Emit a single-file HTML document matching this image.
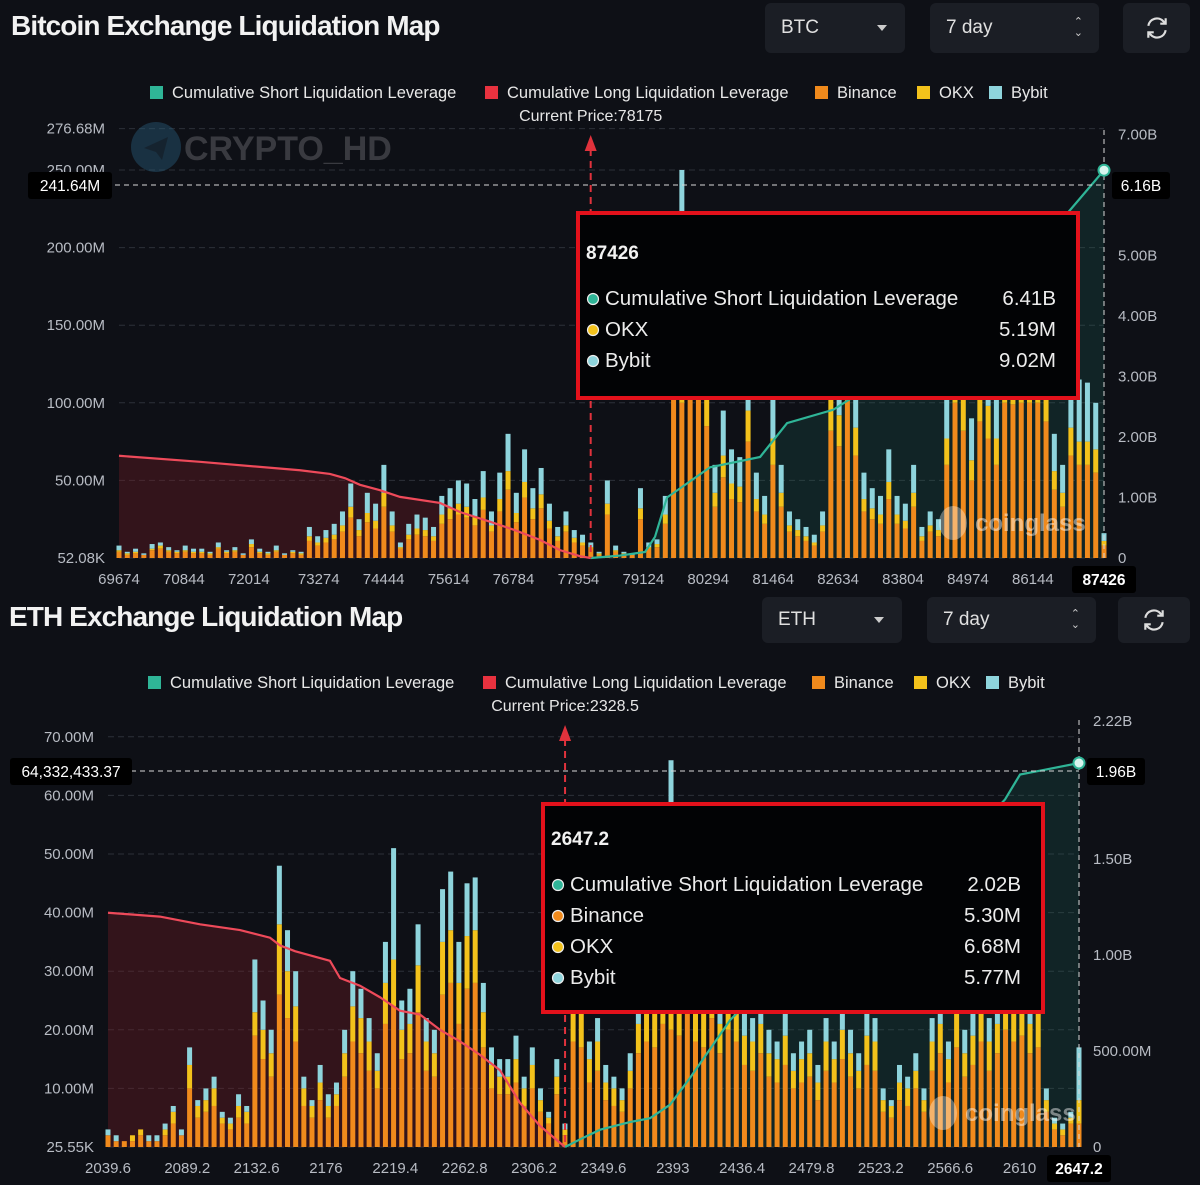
<!DOCTYPE html>
<html><head><meta charset="utf-8">
<style>
html,body{margin:0;padding:0;background:#0e1016;}
body{width:1200px;height:1185px;position:relative;overflow:hidden;font-family:"Liberation Sans",sans-serif;color:#e8e8e8;}
.title{position:absolute;font-weight:bold;font-size:28px;letter-spacing:-0.9px;color:#f2f2f2;}
.sel{position:absolute;background:#1b1e25;border-radius:6px;font-size:19px;color:#e0e0e0;box-sizing:border-box;padding-left:16px;display:flex;align-items:center;}
.caret{position:absolute;right:18px;top:50%;width:0;height:0;border-left:5px solid transparent;border-right:5px solid transparent;border-top:6px solid #ccc;margin-top:-3px;}
.updn{position:absolute;right:16px;top:50%;margin-top:-11px;font-size:11px;line-height:11px;color:#ccc;}
.btn{position:absolute;background:#1b1e25;border-radius:6px;display:flex;align-items:center;justify-content:center;}
svg{position:absolute;left:0;top:0;}
</style></head>
<body>
<div class="title" style="left:11px;top:10px">Bitcoin Exchange Liquidation Map</div>
<div class="sel" style="left:765px;top:3px;width:140px;height:50px">BTC<span class="caret"></span></div>
<div class="sel" style="left:930px;top:3px;width:169px;height:50px">7 day<span class="updn">⌃<br>⌄</span></div>
<div class="btn" style="left:1123px;top:3px;width:67px;height:50px"><svg style="position:static" width="26" height="26" viewBox="0 0 24 24"><path d="M4 10a8 8 0 0 1 14-4l2 2M20 14a8 8 0 0 1-14 4l-2-2" fill="none" stroke="#ddd" stroke-width="2"/><path d="M20 3v5h-5M4 21v-5h5" fill="none" stroke="#ddd" stroke-width="2"/></svg></div>

<div class="title" style="left:9px;top:601px">ETH Exchange Liquidation Map</div>
<div class="sel" style="left:762px;top:597px;width:140px;height:46px">ETH<span class="caret"></span></div>
<div class="sel" style="left:927px;top:597px;width:169px;height:46px">7 day<span class="updn">⌃<br>⌄</span></div>
<div class="btn" style="left:1118px;top:597px;width:72px;height:46px"><svg style="position:static" width="26" height="26" viewBox="0 0 24 24"><path d="M4 10a8 8 0 0 1 14-4l2 2M20 14a8 8 0 0 1-14 4l-2-2" fill="none" stroke="#ddd" stroke-width="2"/><path d="M20 3v5h-5M4 21v-5h5" fill="none" stroke="#ddd" stroke-width="2"/></svg></div>

<svg id="chart" width="1200" height="1185" xmlns="http://www.w3.org/2000/svg"></svg>

<script>
// ===== BTC data =====
const btcPriceMin = 69674, btcPriceMax = 87426;
const btcXTicks = [69674,70844,72014,73274,74444,75614,76784,77954,79124,80294,81464,82634,83804,84974,86144];
const btcLeftTicks = [276.68,250,200,150,100,50,0];
const btcLeftLabels = ["276.68M","250.00M","200.00M","150.00M","100.00M","50.00M","52.08K"];
const btcRightTicks = [7,5,4,3,2,1,0];
const btcRightLabels = ["7.00B","5.00B","4.00B","3.00B","2.00B","1.00B","0"];
const btcBinance = [4,2,3,2,5,6,4,3,4,3, 3,2,6,3,4,2,7,3,2,4, 2,3,2,11,8,10,12,17,26,14, 23,19,33,17,6,12,15,14,11,22, 25,28,26,21,31,17,30,44,23,39, 25,32,19,11,17,10,8,6,2,28, 4,2,2,25,6,7,22,110,100,110, 110,85,33,52,38,36,75,30,22,60, 33,17,14,11,8,17,82,72,105,66, 30,25,22,38,22,19,33,11,17,14, 60,100,82,50,88,77,60,100,99,100, 100,100,88,44,33,66,60,60,55,8];
const btcOkx = [1,1,1,0,1,2,1,1,1,1, 1,1,1,1,1,0,2,1,1,1, 0,1,1,3,2,3,3,4,7,4, 6,5,9,4,1,3,4,4,3,6, 7,7,7,6,8,4,8,12,6,10, 7,9,5,3,4,3,2,1,1,7, 1,1,0,7,1,2,6,30,30,30, 35,20,9,14,10,10,20,8,6,17, 9,4,4,3,2,4,23,20,32,18, 8,7,6,11,6,5,9,3,4,4, 17,30,22,13,24,21,17,36,27,30, 33,28,24,12,9,18,15,15,15,3];
const btcBybit = [3,1,2,1,3,2,2,1,3,2, 2,1,3,1,2,1,3,2,1,3, 1,1,1,6,4,5,7,9,15,7, 13,11,18,9,3,7,9,8,6,12, 13,15,15,11,17,9,17,24,13,21, 13,17,11,6,9,5,5,3,1,15, 3,1,1,13,3,3,12,60,120,60, 65,45,18,29,22,19,40,17,12,33, 18,9,7,6,5,9,45,38,63,36, 17,13,12,21,12,11,18,6,9,7, 33,60,46,27,48,42,33,60,54,60, 66,58,48,24,18,36,40,38,30,5];
const btcLongPrice = [69674,71134,72936,73477,73747,74017,74378,74738,75459,75819,76360,76811,77261,77622,77982,78175];
const btcLongValue = [1.69,1.59,1.45,1.39,1.32,1.21,1.12,1.01,0.91,0.76,0.60,0.46,0.30,0.13,0.03,0];
const btcShortPrice = [78175,78703,79154,79334,79550,80326,81228,81715,82545,82906,83393,84500,85500,86785,87092,87426];
const btcShortValue = [0,0.04,0.1,0.35,1.0,1.5,1.67,2.23,2.45,2.66,2.75,3.6,4.6,5.72,6.05,6.41];

// ===== ETH data =====
const ethPriceMin = 2039.6, ethPriceMax = 2647.2;
const ethXTicks = [2039.6,2089.2,2132.6,2176,2219.4,2262.8,2306.2,2349.6,2393,2436.4,2479.8,2523.2,2566.6,2610];
const ethLeftTicks = [70,60,50,40,30,20,10,0];
const ethLeftLabels = ["70.00M","60.00M","50.00M","40.00M","30.00M","20.00M","10.00M","25.55K"];
const ethRightTicks = [2.22,1.5,1.0,0.5,0];
const ethRightLabels = ["2.22B","1.50B","1.00B","500.00M","0"];
const ethBinance = [2,1,1,1,2,1,1,2,4,2, 10,5,6,7,4,3,5,4,19,15, 12,26,22,18,7,5,8,5,7,12, 18,16,13,10,21,24,15,16,23,13, 12,26,28,21,27,28,17,10,9,9, 11,7,10,6,4,9,2,18,17,11, 13,8,7,6,10,16,18,17,21,20, 19,23,18,17,22,16,20,18,14,13, 16,12,11,14,10,11,12,8,13,11, 15,12,10,14,13,6,5,8,7,10, 6,13,16,11,17,12,14,18,13,16, 20,18,19,16,17,6,3,2,4,4];
const ethOkx = [0,0,0,1,1,0,0,1,2,0, 4,2,2,3,1,1,2,2,4,5, 4,12,8,6,3,2,3,2,2,4, 6,6,5,3,7,8,5,5,8,5, 4,9,9,7,9,9,6,4,3,3, 4,3,4,2,1,3,1,6,6,4, 5,3,3,2,3,5,6,6,7,10, 7,8,6,6,7,5,7,6,5,5, 5,4,4,5,3,4,4,3,5,4, 5,4,3,5,5,2,2,3,3,3, 2,5,5,4,6,4,5,6,5,5, 7,6,6,5,6,2,1,1,1,4];
const ethBybit = [1,1,0,0,0,1,1,1,1,1, 3,1,2,2,1,1,2,1,9,5, 4,10,7,6,2,1,3,2,2,4, 6,5,4,3,7,19,5,6,7,4, 4,9,10,7,9,9,5,3,3,3, 4,2,3,2,1,3,1,6,5,3, 4,3,2,2,3,5,6,5,7,36, 6,7,6,5,7,5,7,6,5,4, 5,4,3,5,3,3,4,3,4,3, 5,4,3,5,4,2,1,3,2,3, 2,4,5,3,5,4,5,6,4,5, 7,6,7,5,5,2,1,1,1,9];
const ethLongPrice = [2039.6,2072.1,2097.2,2122.2,2141.0,2147.2,2156.6,2178.5,2184.8,2197.3,2209.8,2222.3,2234.8,2247.4,2259.9,2272.4,2284.9,2297.4,2309.9,2325.6];
const ethLongValue = [1.22,1.20,1.16,1.13,1.09,1.05,1.02,0.97,0.88,0.84,0.78,0.71,0.69,0.61,0.55,0.48,0.40,0.23,0.11,0];
const ethShortPrice = [2325.6,2335,2347.5,2366.2,2378.8,2391.2,2403.8,2416.3,2428.8,2447.6,2500,2560,2600.9,2610.3,2622.8,2647.2];
const ethShortValue = [0,0.04,0.09,0.13,0.15,0.22,0.36,0.51,0.66,0.82,1.1,1.45,1.81,1.94,1.96,2.0];

const NS = "http://www.w3.org/2000/svg";
const svg = document.getElementById('chart');
function mk(tag, attrs, parent, text){
  const e = document.createElementNS(NS, tag);
  for (const k in attrs) e.setAttribute(k, attrs[k]);
  if (text !== undefined) e.textContent = text;
  (parent || svg).appendChild(e);
  return e;
}
const C = {binance:'#f08a1c', okx:'#f3c21b', bybit:'#8ed4dc', short:'#2fb597', long:'#ee4a5a'};

function draw(o){
  const g = mk('g', {});
  
  
  const xS = p => o.x0 + (p - o.pMin) / (o.pMax - o.pMin) * (o.x1 - o.x0);
  const lS = v => o.y0 - v * o.lPx;
  const rS = v => o.y0 - v * o.rPx;
  o.leftTicks.forEach((t,i)=>{
    const gl = mk('line',{x1:o.x0,x2:o.x1,y1:lS(t),y2:lS(t),stroke:'#2c3038','stroke-dasharray':'6 4','stroke-width':1},g);
    
    
    const tl = mk('text',{x:o.lx,y:lS(t)+5,'text-anchor':'end','font-size':15,fill:'#b8bcc4'},g,o.leftLabels[i]);
    
    
  });
  o.rightTicks.forEach((t,i)=>{
    const tl = mk('text',{x:o.rx,y:rS(t)+5,'font-size':15,fill:'#b8bcc4'},g,o.rightLabels[i]);
    
    
  });
  const lp = o.longP.map((p,i)=>[xS(p), rS(o.longV[i])]);
  const sp = o.shortP.map((p,i)=>[xS(p), rS(o.shortV[i])]);
  const la = mk('path',{d:'M'+lp.map(p=>p.join(',')).join('L')+'L'+lp[lp.length-1][0]+','+o.y0+'L'+lp[0][0]+','+o.y0+'Z',fill:'rgba(120,30,38,0.35)'},g);
  
  
  const sa = mk('path',{d:'M'+sp.map(p=>p.join(',')).join('L')+'L'+sp[sp.length-1][0]+','+o.y0+'L'+sp[0][0]+','+o.y0+'Z',fill:'rgba(30,110,95,0.22)'},g);
  
  
  const n = o.bin.length;
  const step = (o.pMax - o.pMin) / (n - 1);
  for (let i = 0; i < n; i++){
    const x = xS(o.pMin + i*step) - o.bw/2;
    let base = 0;
    [[o.bin[i],C.binance,'binance'],[o.okx[i],C.okx,'okx'],[o.byb[i],C.bybit,'bybit']].forEach(s=>{
      const r = mk('rect',{x:x,y:lS(base+s[0]),width:o.bw,height:Math.max(0,lS(base)-lS(base+s[0])),fill:s[1]},g);
      
      
      base += s[0];
    });
  }
  const ll = mk('polyline',{points:lp.map(p=>p.join(',')).join(' '),fill:'none',stroke:C.long,'stroke-width':2.2},g);
  
  
  const sl = mk('polyline',{points:sp.map(p=>p.join(',')).join(' '),fill:'none',stroke:C.short,'stroke-width':2.2},g);
  
  
  const cx = xS(o.cur);
  const cl = mk('line',{x1:cx,x2:cx,y1:o.curTop+14,y2:o.y0,stroke:'#e0323c','stroke-width':2,'stroke-dasharray':'7 5'},g);
  
  
  mk('path',{d:`M${cx},${o.curTop} L${cx-6},${o.curTop+16} L${cx+6},${o.curTop+16}Z`,fill:'#e0323c'},g);
  const ct = mk('text',{x:cx,y:o.curTop-14,'text-anchor':'middle','font-size':16,fill:'#e6e6e6'},g,'Current Price:' + o.curLabel);
  
  
  o.xTicks.forEach(t=>{
    const tl = mk('text',{x:xS(t),y:o.y0+26,'text-anchor':'middle','font-size':15,fill:'#b8bcc4'},g,String(t));
    
    
  });
  const hy = rS(o.hVal);
  mk('line',{x1:o.x0-4,x2:o.x1,y1:o.hy,y2:o.hy,stroke:'#d8d8d8','stroke-dasharray':'5 4','stroke-width':1},g);
  mk('line',{x1:o.x1,x2:o.x1,y1:o.vTop,y2:o.y0,stroke:'#d8d8d8','stroke-dasharray':'5 4','stroke-width':1},g);
  const dot = mk('circle',{cx:o.x1,cy:hy,r:5.5,fill:'#d8f5ee',stroke:C.short,'stroke-width':2},g);
  
  
  const box = (x,y,w,h,t,name,bold)=>{
    mk('rect',{x:x,y:y,width:w,height:h,fill:'#000',rx:3},g);
    const tt = mk('text',{x:x+w/2,y:y+h/2+5.5,'text-anchor':'middle','font-size':15.5,fill:'#fff','font-weight':bold?'bold':'normal'},g,t);
    
    
  };
  box(o.lbx, o.hy-13, o.lbw, 27, o.hLeftLabel, 'crosshair-left-value');
  box(o.x1+8, o.hy-13, 58, 27, o.hRightLabel, 'crosshair-right-value');
  box(o.x1-32, o.y0+8, 64, 27, o.hoverLabel, 'crosshair-x-value', true);
  const tg = mk('g',{},g);
  
  
  mk('rect',{x:o.tt[0],y:o.tt[1],width:o.tt[2],height:o.tt[3],fill:'#020305',stroke:'#e3111b','stroke-width':4},tg);
  mk('text',{x:o.tt[0]+8,y:o.tt[1]+o.titleOff,'font-size':19,'font-weight':'bold',fill:'#f2f2f2'},tg,o.hoverLabel);
  o.rows.forEach((r,i)=>{
    const y = o.tt[1]+o.rowOff+i*31;
    mk('circle',{cx:o.tt[0]+15,cy:y-6,r:5.5,fill:r[2],stroke:'#eee','stroke-width':1.2},tg);
    mk('text',{x:o.tt[0]+27,y:y,'font-size':20.5,fill:'#ececec'},tg,r[0]);
    mk('text',{x:o.tt[0]+o.tt[2]-22,y:y,'font-size':20.5,fill:'#ececec','text-anchor':'end'},tg,r[1]);
  });
  const lg = mk('g',{},g);
  
  
  o.legend.forEach(l=>{
    mk('rect',{x:l[0],y:o.legY-12,width:13,height:13,fill:l[2]},lg);
    mk('text',{x:l[0]+22,y:o.legY,'font-size':16.5,fill:'#e8e8e8'},lg,l[1]);
  });
  const wm = mk('text',{x:o.wm[0],y:o.wm[1],'font-size':24,'font-weight':'bold',fill:'rgba(255,255,255,0.45)'},g,'coinglass');
  
  
  mk('ellipse',{cx:o.wm[0]-22,cy:o.wm[1]-8,rx:14,ry:17,fill:'rgba(255,255,255,0.35)'},g);
}

draw({id:'btc', x0:119, x1:1104, y0:558, lPx:1.552, rPx:60.5, pMin:btcPriceMin, pMax:btcPriceMax,
  bin:btcBinance, okx:btcOkx, byb:btcBybit, bw:5,
  leftTicks:btcLeftTicks, leftLabels:btcLeftLabels, rightTicks:btcRightTicks, rightLabels:btcRightLabels,
  lx:105, rx:1118, xTicks:btcXTicks,
  longP:btcLongPrice, longV:btcLongValue, shortP:btcShortPrice, shortV:btcShortValue,
  cur:78175, curLabel:'78175', curTop:135, hVal:6.41, hy:185, vTop:130,
  lbx:28, lbw:84, hLeftLabel:'241.64M', hRightLabel:'6.16B', hoverLabel:'87426',
  tt:[578,213,500,185], titleOff:46, rowOff:92,
  rows:[['Cumulative Short Liquidation Leverage','6.41B','#2fb597'],['OKX','5.19M','#f3c21b'],['Bybit','9.02M','#8ed4dc']],
  legY:98, legend:[[150,'Cumulative Short Liquidation Leverage',C.short],[485,'Cumulative Long Liquidation Leverage','#e8323f'],[815,'Binance',C.binance],[917,'OKX',C.okx],[989,'Bybit',C.bybit]],
  wm:[975,531]});

draw({id:'eth', x0:108, x1:1079, y0:1147, lPx:5.86, rPx:192, pMin:ethPriceMin, pMax:ethPriceMax,
  bin:ethBinance, okx:ethOkx, byb:ethBybit, bw:5,
  leftTicks:ethLeftTicks, leftLabels:ethLeftLabels, rightTicks:ethRightTicks, rightLabels:ethRightLabels,
  lx:94, rx:1093, xTicks:ethXTicks,
  longP:ethLongPrice, longV:ethLongValue, shortP:ethShortPrice, shortV:ethShortValue,
  cur:2325.6, curLabel:'2328.5', curTop:725, hVal:2.0, hy:771, vTop:720,
  lbx:10, lbw:122, hLeftLabel:'64,332,433.37', hRightLabel:'1.96B', hoverLabel:'2647.2',
  tt:[543,804,500,208], titleOff:41, rowOff:87,
  rows:[['Cumulative Short Liquidation Leverage','2.02B','#2fb597'],['Binance','5.30M','#f08a1c'],['OKX','6.68M','#f3c21b'],['Bybit','5.77M','#8ed4dc']],
  legY:688, legend:[[148,'Cumulative Short Liquidation Leverage',C.short],[483,'Cumulative Long Liquidation Leverage','#e8323f'],[812,'Binance',C.binance],[914,'OKX',C.okx],[986,'Bybit',C.bybit]],
  wm:[965,1121]});

const cw = mk('g',{});


mk('circle',{cx:156,cy:147,r:25,fill:'rgba(40,90,120,0.45)'},cw);
mk('path',{d:'M144,148 L168,137 L162,160 L156,152 Z',fill:'rgba(20,30,40,0.7)'},cw);
mk('text',{x:184,y:160,'font-size':34,'font-weight':'bold',fill:'rgba(110,110,115,0.45)'},cw,'CRYPTO_HD');
</script>
</body></html>
